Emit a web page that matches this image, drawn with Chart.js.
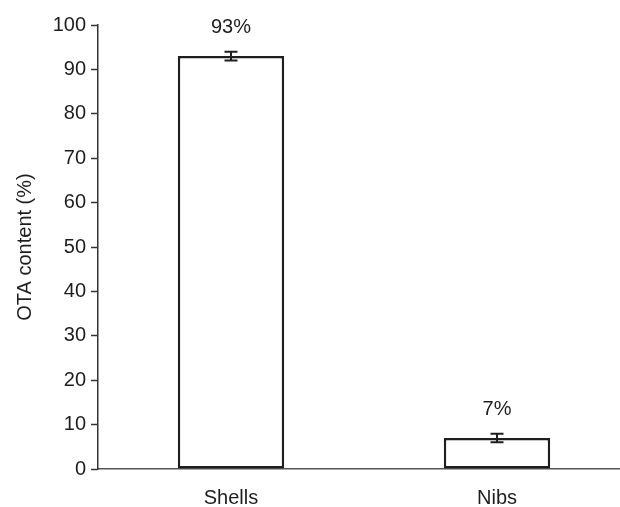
<!DOCTYPE html>
<html>
<head>
<meta charset="utf-8">
<script src="https://cdn.jsdelivr.net/npm/chart.js@4/dist/chart.umd.min.js"></script>
<style>
  html, body { margin: 0; padding: 0; background: #fff; overflow: hidden; width: 620px; height: 507px; }
  canvas { display: block; }
</style>
</head>
<body>
<canvas id="otaChart" width="630" height="507"></canvas>
<script>
const categories = ['Shells', 'Nibs'];
const otaValues = [93, 7];
const otaErrors = [1, 0.95];
const valueLabels = ['93%', '7%'];
const yTicks = [0, 10, 20, 30, 40, 50, 60, 70, 80, 90, 100];

const ctx = document.getElementById('otaChart').getContext('2d');
const ink = '#1e1e1e';
const fontFamily = '"Liberation Sans", Arial, sans-serif';

// error bars + percentage labels drawn on top of the bars
const errorBarPlugin = {
  id: 'errorBars',
  afterDatasetsDraw(chart) {
    const meta = chart.getDatasetMeta(0);
    const yScale = chart.scales.y;
    const c = chart.ctx;
    c.save();
    c.strokeStyle = ink;
    c.lineWidth = 2;
    meta.data.forEach((bar, i) => {
      const top = yScale.getPixelForValue(otaValues[i] + otaErrors[i]);
      const bottom = yScale.getPixelForValue(otaValues[i] - otaErrors[i]);
      c.beginPath();
      c.moveTo(bar.x, top);
      c.lineTo(bar.x, bottom);
      c.moveTo(bar.x - 6.5, top);
      c.lineTo(bar.x + 6.5, top);
      c.moveTo(bar.x - 6.5, bottom);
      c.lineTo(bar.x + 6.5, bottom);
      c.stroke();

      c.fillStyle = ink;
      c.font = '20px ' + fontFamily;
      c.textAlign = 'center';
      c.textBaseline = 'middle';
      c.fillText(valueLabels[i], bar.x, top - 24);
    });
    c.restore();
  }
};

const myChart = new Chart(ctx, {
  type: 'bar',
  data: {
    labels: categories,
    datasets: [{
      data: otaValues,
      backgroundColor: '#fff',
      borderColor: ink,
      borderWidth: 2.5,
      borderSkipped: false,
      categoryPercentage: 1,
      barPercentage: 0.4
    }]
  },
  options: {
    responsive: false,
    animation: false,
    layout: { padding: { top: 25, left: 0, right: 0, bottom: 0 } },
    plugins: {
      legend: { display: false },
      tooltip: { enabled: false }
    },
    scales: {
      x: {
        grid: { display: false, drawTicks: false },
        border: { display: true, color: '#555', width: 1.5 },
        ticks: {
          color: ink,
          padding: 17,
          font: { family: fontFamily, size: 20 }
        },
        afterFit(scale) { scale.height = 38; }
      },
      y: {
        min: 0,
        max: 100,
        afterBuildTicks(scale) { scale.ticks = yTicks.map(v => ({ value: v })); },
        grid: { drawOnChartArea: false, tickLength: 7, tickColor: '#333', tickWidth: 1.5 },
        border: { display: true, color: '#333', width: 1.5 },
        ticks: {
          color: ink,
          padding: 5,
          font: { family: fontFamily, size: 20 }
        },
        title: {
          display: true,
          text: 'OTA content (%)',
          color: ink,
          padding: { top: 13, bottom: 0 },
          font: { family: fontFamily, size: 20 }
        },
        afterFit(scale) { scale.width = 98; }
      }
    }
  },
  plugins: [errorBarPlugin]
});
</script>
</body>
</html>
